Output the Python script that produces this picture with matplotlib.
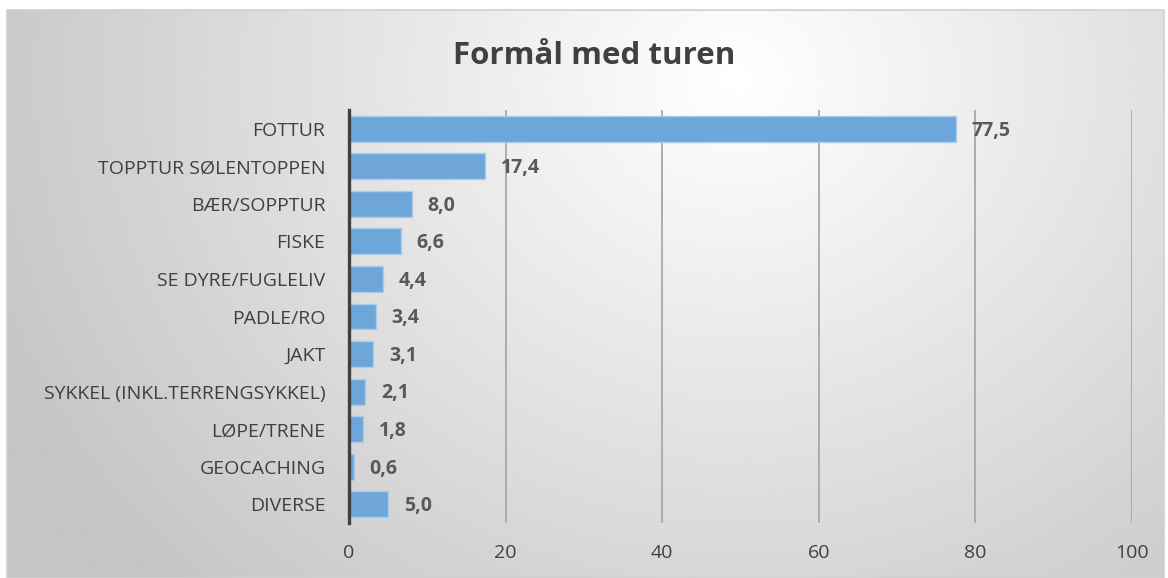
import numpy as np
import matplotlib.pyplot as plt
from matplotlib.patches import Rectangle

categories = ["FOTTUR", "TOPPTUR SØLENTOPPEN", "BÆR/SOPPTUR", "FISKE",
              "SE DYRE/FUGLELIV", "PADLE/RO", "JAKT",
              "SYKKEL (INKL.TERRENGSYKKEL)", "LØPE/TRENE", "GEOCACHING", "DIVERSE"]
values = [77.5, 17.4, 8.0, 6.6, 4.4, 3.4, 3.1, 2.1, 1.8, 0.6, 5.0]
xticks = [0, 20, 40, 60, 80, 100]

plt.rcParams['font.family'] = ['Open Sans', 'DejaVu Sans']

W, H = 1168, 578
fig = plt.figure(figsize=(W / 100, H / 100), dpi=100)

# radial gradient background of the chart box
bx0, by0, bx1, by1 = 7, 10, 1164, 578
bg = fig.add_axes([bx0 / W, 0, (bx1 - bx0) / W, (by1 - by0) / H])
yy, xx = np.mgrid[0:300, 0:600]
cx, cy = 0.63 * 600, 0.12 * 300
d = np.sqrt(((xx - cx) / 600) ** 2 + ((yy - cy) / 300 * 0.55) ** 2)
d = np.clip(d / 0.7, 0, 1)
shade = 1.0 - 0.23 * d
bg.imshow(shade, cmap='gray', vmin=0, vmax=1, aspect='auto',
          extent=[0, 1, 0, 1], interpolation='bilinear')
bg.set_xlim(0, 1)
bg.set_ylim(0, 1)
bg.axis('off')
fig.patches.append(Rectangle((bx0 / W, 0), (bx1 - bx0) / W, (by1 - by0) / H,
                             transform=fig.transFigure, fill=False,
                             edgecolor='#d0d0d0', linewidth=1.2, zorder=5))

ax = fig.add_axes([349 / W, 1 - 523 / H, (1132 - 349) / W, (523 - 110) / H])
ax.patch.set_alpha(0)
y = np.arange(len(categories))
ax.barh(y, values, height=0.69, color='#6fa6d9', edgecolor='#a9cbec',
        linewidth=1.0, zorder=3)
for yi, v in zip(y, values):
    ax.text(v + 2.0, yi + 0.05, f"{v:.1f}".replace('.', ','), va='center',
            ha='left', fontsize=14, fontweight='bold', color='#595959')

ax.set_ylim(len(categories) - 0.5, -0.5)
ax.set_xlim(0, 100)
ax.set_yticks(y)
ax.set_yticklabels(categories, fontsize=14, color='#404040')
ax.set_xticks(xticks)
ax.set_xticklabels([str(t) for t in xticks], fontsize=14, color='#404040')
ax.tick_params(axis='both', length=0)
ax.tick_params(axis='x', pad=15)
ax.tick_params(axis='y', pad=17)
for t in xticks[1:]:
    ax.axvline(t, color='#a8a8a8', linewidth=1.3, zorder=1)
for s in ['top', 'right', 'bottom']:
    ax.spines[s].set_visible(False)
ax.spines['left'].set_color('#404040')
ax.spines['left'].set_linewidth(2.4)
ax.spines['left'].set_zorder(4)

fig.text(594 / W, 1 - 56 / H, "Formål med turen", ha='center', va='center',
         fontsize=22.5, fontweight='bold', color='#404040')

fig.savefig("out.png", dpi=100)
